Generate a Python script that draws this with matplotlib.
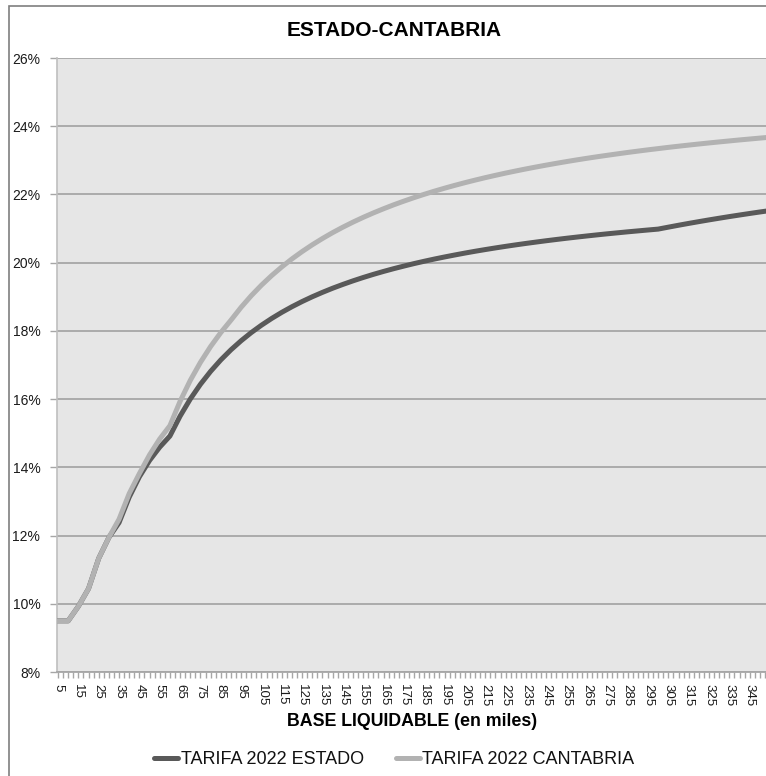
import matplotlib
matplotlib.use("Agg")
import matplotlib.pyplot as plt
from matplotlib.patches import Rectangle
from matplotlib.ticker import FixedLocator, FuncFormatter

plt.rcParams['font.family'] = ['Liberation Sans', 'DejaVu Sans']

# Base liquidable (miles de euros)
base = [5, 10, 15, 20, 25, 30, 35, 40, 45, 50, 55, 60, 65, 70, 75, 80, 85, 90, 95, 100,
        105, 110, 115, 120, 125, 130, 135, 140, 145, 150, 155, 160, 165, 170, 175, 180,
        185, 190, 195, 200, 205, 210, 215, 220, 225, 230, 235, 240, 245, 250, 255, 260,
        265, 270, 275, 280, 285, 290, 295, 300, 305, 310, 315, 320, 325, 330, 335, 340,
        345, 350, 355]

# Tipo medio (%) - TARIFA 2022 ESTADO
estado = [9.500, 9.500, 9.925, 10.444, 11.331, 11.943, 12.379, 13.127, 13.724, 14.202,
          14.592, 14.918, 15.501, 16.001, 16.434, 16.813, 17.148, 17.445, 17.711, 17.951,
          18.167, 18.364, 18.544, 18.709, 18.861, 19.001, 19.130, 19.251, 19.362, 19.467,
          19.565, 19.657, 19.743, 19.824, 19.900, 19.973, 20.041, 20.106, 20.167, 20.225,
          20.281, 20.334, 20.384, 20.432, 20.478, 20.522, 20.564, 20.604, 20.643, 20.680,
          20.716, 20.750, 20.783, 20.815, 20.846, 20.875, 20.904, 20.931, 20.958, 20.984,
          21.041, 21.097, 21.151, 21.203, 21.254, 21.303, 21.351, 21.397, 21.442, 21.486,
          21.528]

# Tipo medio (%) - TARIFA 2022 CANTABRIA
cantabria = [9.500, 9.500, 9.925, 10.444, 11.331, 11.943, 12.479, 13.232, 13.817, 14.366,
             14.832, 15.221, 15.935, 16.547, 17.077, 17.541, 17.950, 18.314, 18.692, 19.033,
             19.341, 19.621, 19.876, 20.111, 20.326, 20.525, 20.709, 20.881, 21.040, 21.189,
             21.328, 21.458, 21.580, 21.696, 21.804, 21.907, 22.004, 22.096, 22.183, 22.266,
             22.345, 22.420, 22.492, 22.560, 22.626, 22.688, 22.748, 22.805, 22.860, 22.913,
             22.964, 23.013, 23.060, 23.105, 23.148, 23.190, 23.231, 23.270, 23.308, 23.344,
             23.380, 23.414, 23.447, 23.479, 23.510, 23.540, 23.569, 23.598, 23.625, 23.652,
             23.678]

x_labels = list(range(5, 350, 10))
y_ticks = [8, 10, 12, 14, 16, 18, 20, 22, 24, 26]

W, H = 766, 776
fig = plt.figure(figsize=(W / 100, H / 100), dpi=100)
fig.patch.set_facecolor('white')

# outer chart frame
fig.patches.append(Rectangle((9 / W, -0.05), 1.2, (H - 6) / H + 0.05,
                             transform=fig.transFigure, fill=False,
                             edgecolor='#7f7f7f', linewidth=1.2))

ax = fig.add_axes([57 / W, (H - 672) / H, (W - 57) / W, (672 - 58) / H])
ax.set_facecolor('#e6e6e6')

ax.plot(base, estado, color='#595959', linewidth=3.6, solid_capstyle='round',
        label='TARIFA 2022 ESTADO', zorder=3)
ax.plot(base, cantabria, color='#b2b2b2', linewidth=3.6, solid_capstyle='round',
        label='TARIFA 2022 CANTABRIA', zorder=4)

ax.set_ylim(8, 26)
ax.set_xlim(4.5, 353)

ax.yaxis.set_major_locator(FixedLocator(y_ticks))
ax.yaxis.set_major_formatter(FuncFormatter(lambda v, p: f"{v:.0f}%"))
ax.xaxis.set_major_locator(FixedLocator(x_labels))
ax.xaxis.set_minor_locator(FixedLocator([5 + 2.5 * i for i in range(140)]))
ax.set_xticklabels([str(v) for v in x_labels], rotation=-90)

ax.grid(axis='y', color='#a6a6a6', linewidth=1.3)
ax.set_axisbelow(True)

for s in ['top', 'right']:
    ax.spines[s].set_visible(False)
ax.spines['left'].set_color('#bfbfbf')
ax.spines['left'].set_linewidth(1.2)
ax.spines['bottom'].set_color('#a6a6a6')
ax.spines['bottom'].set_linewidth(1.3)

ax.tick_params(axis='y', length=5, width=1, color='#a6a6a6', pad=7,
               labelsize=10, labelcolor='#1a1a1a')
ax.tick_params(axis='x', which='major', length=4, width=1, color='#a6a6a6', pad=5,
               labelsize=9.5, labelcolor='#1a1a1a')
ax.tick_params(axis='x', which='minor', length=4, width=1, color='#a6a6a6')

fig.text(394 / W, (H - 30) / H, 'ESTADO-CANTABRIA', ha='center', va='center',
         fontsize=15, fontweight='bold', color='#000000')
fig.text(412 / W, (H - 722) / H, 'BASE LIQUIDABLE (en miles)', ha='center', va='center',
         fontsize=12.8, fontweight='bold', color='#000000')

fig.legend(loc='center', bbox_to_anchor=(394.5 / W, (H - 760) / H), ncol=2,
           frameon=False, fontsize=13, handlelength=1.3, handletextpad=0.15,
           columnspacing=1.8, labelcolor='#111111')

fig.savefig('out.png', dpi=100, facecolor='white')
